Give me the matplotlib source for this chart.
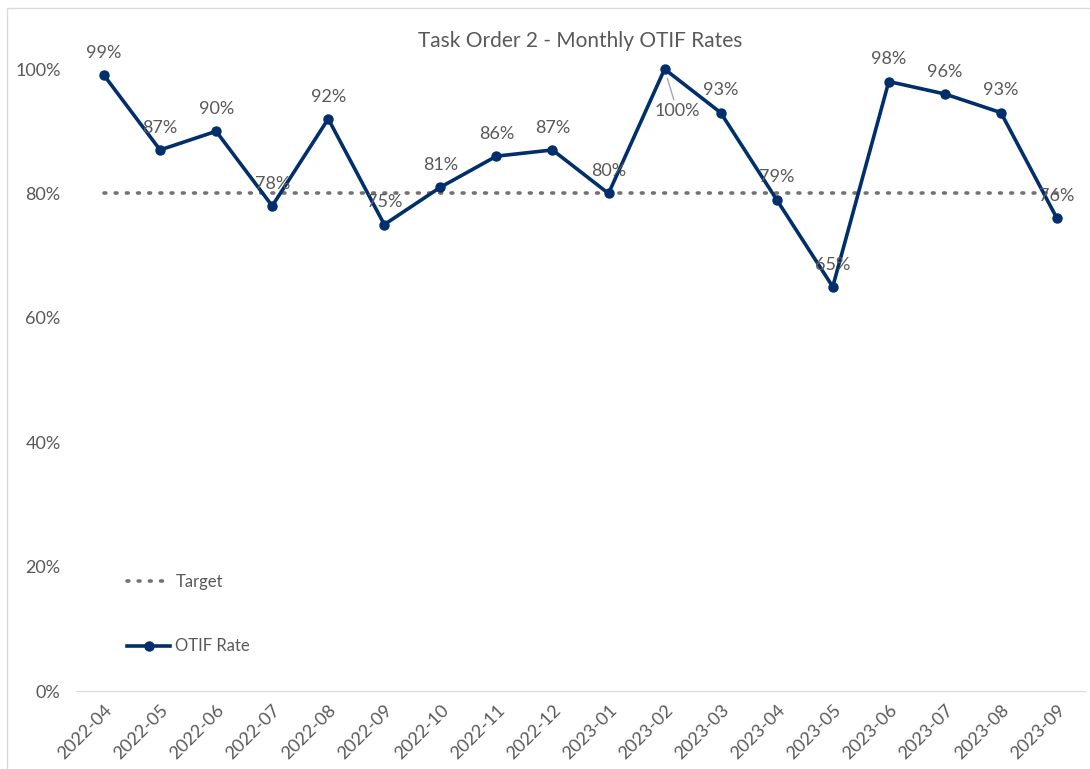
import matplotlib
matplotlib.use("Agg")
import matplotlib.pyplot as plt
from matplotlib.patches import Rectangle

plt.rcParams['font.family'] = ['Lato', 'DejaVu Sans']

months = ['2022-04', '2022-05', '2022-06', '2022-07', '2022-08', '2022-09',
          '2022-10', '2022-11', '2022-12', '2023-01', '2023-02', '2023-03',
          '2023-04', '2023-05', '2023-06', '2023-07', '2023-08', '2023-09']
otif = [0.99, 0.87, 0.90, 0.78, 0.92, 0.75, 0.81, 0.86, 0.87, 0.80,
        1.00, 0.93, 0.79, 0.65, 0.98, 0.96, 0.93, 0.76]
target = [0.80] * len(months)
yticks = [0, 0.2, 0.4, 0.6, 0.8, 1.0]

navy = '#002F6C'
grey = '#595959'

W, H = 1090, 769
fig = plt.figure(figsize=(W / 100, H / 100), dpi=100)
# chart border like excel
fig.patches.append(Rectangle((7 / W, -0.01), 1.1, (H - 8) / H + 0.01,
                             transform=fig.transFigure, fill=False,
                             edgecolor='#D9D9D9', lw=1))

ax = fig.add_axes([76 / W, 78 / H, (1085 - 76) / W, 653 / H])
x = list(range(len(months)))

ax.plot(x, target, linestyle=(0, (0.5, 2.6)), dash_capstyle='round',
        color='#767171', lw=2.6, label='Target')
ax.plot(x, otif, color=navy, lw=2.6, marker='o', ms=6.5, label='OTIF Rate')

for i, v in enumerate(otif):
    txt = f'{round(v * 100)}%'
    if v == 1.0:
        ax.annotate(txt, (i, v), xytext=(9, -30), textcoords='offset points',
                    ha='center', va='center', fontsize=13, color=grey,
                    arrowprops=dict(arrowstyle='-', color='#A6A6A6', lw=1,
                                    shrinkA=0, shrinkB=7))
    else:
        ax.annotate(txt, (i, v), xytext=(0, 16), textcoords='offset points',
                    ha='center', va='center', fontsize=13, color=grey)

ax.set_xlim(-0.5, len(months) - 0.5)
ax.set_ylim(0, 1.05)
ax.set_yticks(yticks)
ax.set_yticklabels([f'{int(t * 100)}%' for t in yticks])
ax.set_xticks(x)
ax.set_xticklabels(months, rotation=45, ha='right', rotation_mode='anchor')
ax.tick_params(axis='both', length=0, colors=grey, labelsize=13)
ax.tick_params(axis='x', pad=8)
ax.tick_params(axis='y', pad=11)

for s in ['top', 'right', 'left']:
    ax.spines[s].set_visible(False)
ax.spines['bottom'].set_color('#D9D9D9')

fig.text((76 + 1085) / 2 / W, (H - 41) / H, 'Task Order 2 - Monthly OTIF Rates',
         fontsize=15, color=grey, ha='center', va='center')

h, l = ax.get_legend_handles_labels()
ax.legend(h, l, loc='upper left', bbox_to_anchor=(112 / W, 210 / H),
          bbox_transform=fig.transFigure, frameon=False, fontsize=12,
          labelcolor=grey, handlelength=2.6, handletextpad=0.3,
          labelspacing=2.9)

fig.savefig('out.png', dpi=100)
